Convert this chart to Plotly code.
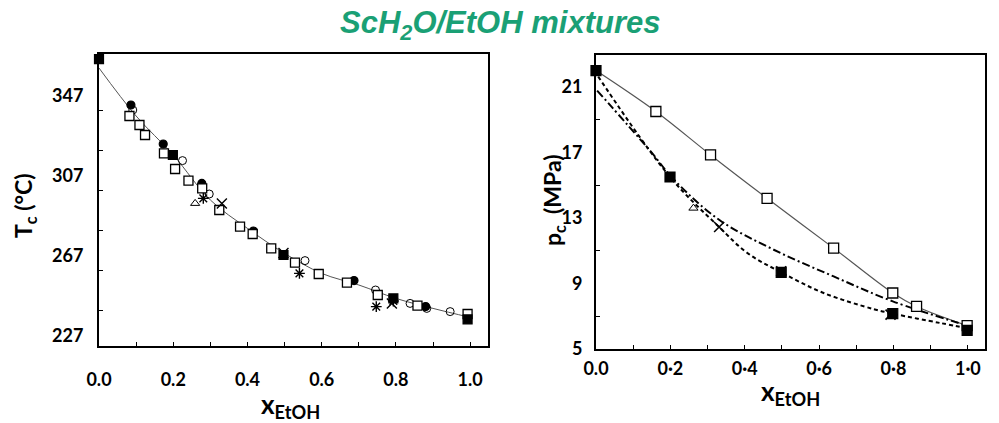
import plotly.graph_objects as go

# ---------------- Left panel: Tc vs x_EtOH ----------------
line_T_x = [0.0, 0.1, 0.2, 0.3, 0.4, 0.5, 0.6, 0.7, 0.8, 0.9, 1.0]
line_T_y = [361, 337, 317.5, 295, 280.8, 268.3, 258.3, 252.5, 245.8, 240.8, 236.3]

fsq_T_x = [0.0, 0.199, 0.497, 0.793, 0.993]
fsq_T_y = [365.4, 317.5, 267.5, 245.8, 235.3]

fci_T_x = [0.086, 0.173, 0.277, 0.416, 0.687, 0.88]
fci_T_y = [342.5, 323.0, 303.3, 279.5, 254.7, 241.7]

oci_T_x = [0.091, 0.225, 0.297, 0.555, 0.745, 0.838, 0.883, 0.946]
oci_T_y = [340.0, 314.7, 298.0, 264.7, 250.0, 243.3, 240.8, 239.2]

osq_T_x = [0.082, 0.109, 0.124, 0.175, 0.205, 0.241, 0.278, 0.324, 0.38, 0.414,
           0.464, 0.528, 0.592, 0.668, 0.751, 0.858, 0.993]
osq_T_y = [337.0, 332.5, 327.5, 318.3, 310.5, 304.7, 300.8, 290.0, 281.7, 278.0,
           270.8, 263.7, 258.0, 253.7, 247.5, 242.2, 238.0]

ast_T_x = [0.281, 0.54, 0.747, 0.793]
ast_T_y = [295.8, 258.3, 241.7, 244.5]

xm_T_x = [0.331, 0.497, 0.789]
xm_T_y = [293.3, 268.5, 243.3]

tri_T_x = [0.259]
tri_T_y = [293.3]

# ---------------- Right panel: pc vs x_EtOH ----------------
osq_p_x = [0.0, 0.161, 0.308, 0.46, 0.639, 0.798, 0.862, 0.998]
osq_p_y = [22.0, 19.5, 16.85, 14.2, 11.16, 8.42, 7.6, 6.43]

fsq_p_x = [0.0, 0.199, 0.498, 0.798, 0.998]
fsq_p_y = [22.0, 15.5, 9.68, 7.16, 6.14]

dash_p_x = [0.006, 0.199, 0.331, 0.407, 0.498, 0.612, 0.746, 0.798, 0.925, 0.998]
dash_p_y = [21.63, 15.5, 12.45, 10.86, 9.68, 8.42, 7.44, 7.16, 6.59, 6.28]

dd_p_x = [0.003, 0.147, 0.21, 0.331, 0.478, 0.639, 0.798, 0.998]
dd_p_y = [20.78, 17.06, 15.33, 12.89, 11.06, 9.43, 7.91, 6.43]

tri_p_x = [0.262]
tri_p_y = [13.6]

xm_p_x = [0.331, 0.498, 0.792]
xm_p_y = [12.45, 9.75, 7.1]

# tick labels
x_ticks = [0.0, 0.2, 0.4, 0.6, 0.8, 1.0]
x_ticktext = ["0.0", "0.2", "0.4", "0.6", "0.8", "1.0"]
x_ticktext_r = ["0.0", "0·2", "0·4", "0·6", "0·8", "1·0"]
T_ticks = [227, 267, 307, 347]
T_minor = [240, 260, 280, 300, 320, 340]
p_ticks = [5, 9, 13, 17, 21]
p_minor = [7, 11, 15, 19]

fig = go.Figure()

def sc(x, y, xa, ya, symbol, size, color="black", fill="black", lw=1.2, name=""):
    fig.add_trace(go.Scatter(
        x=x, y=y, xaxis=xa, yaxis=ya, mode="markers", name=name,
        marker=dict(symbol=symbol, size=size, color=fill,
                    line=dict(color=color, width=lw)),
        cliponaxis=False, showlegend=False))

# left panel
fig.add_trace(go.Scatter(x=line_T_x, y=line_T_y, xaxis="x", yaxis="y", mode="lines",
                         line=dict(color="#555555", width=1, shape="spline"),
                         showlegend=False, cliponaxis=False))
sc(oci_T_x, oci_T_y, "x", "y", "circle-open", 8, color="#666666", lw=1)
sc(fci_T_x, fci_T_y, "x", "y", "circle", 8)
sc(osq_T_x, osq_T_y, "x", "y", "square", 9, fill="white", lw=1.3)
sc(fsq_T_x, fsq_T_y, "x", "y", "square", 9)
sc(ast_T_x, ast_T_y, "x", "y", "asterisk-open", 9, lw=1.4)
sc(xm_T_x, xm_T_y, "x", "y", "x-thin-open", 10, lw=1.4)
sc(tri_T_x, tri_T_y, "x", "y", "triangle-up-open", 8, color="#666666", lw=1)

# right panel
fig.add_trace(go.Scatter(x=osq_p_x, y=osq_p_y, xaxis="x2", yaxis="y2", mode="lines",
                         line=dict(color="#555555", width=1.2, shape="spline"),
                         showlegend=False, cliponaxis=False))
fig.add_trace(go.Scatter(x=dash_p_x, y=dash_p_y, xaxis="x2", yaxis="y2", mode="lines",
                         line=dict(color="black", width=2, dash="4px,3px", shape="spline"),
                         showlegend=False, cliponaxis=False))
fig.add_trace(go.Scatter(x=dd_p_x, y=dd_p_y, xaxis="x2", yaxis="y2", mode="lines",
                         line=dict(color="black", width=2, dash="8px,3px,2px,3px", shape="spline"),
                         showlegend=False, cliponaxis=False))
sc(osq_p_x[1:], osq_p_y[1:], "x2", "y2", "square", 10, fill="white", lw=1.3)
sc(fsq_p_x, fsq_p_y, "x2", "y2", "square", 10)
sc(tri_p_x, tri_p_y, "x2", "y2", "triangle-up-open", 8, color="#666666", lw=1)
sc(xm_p_x, xm_p_y, "x2", "y2", "x-thin-open", 10, lw=1.6)

tickfont = dict(family="Lato, 'Open Sans', sans-serif", size=18, color="black", weight="bold")

axis_common = dict(showline=True, linecolor="black", linewidth=2, mirror=True,
                   showgrid=False, zeroline=False, tickfont=tickfont, automargin=False)

fig.update_layout(
    width=999, height=423,
    margin=dict(l=0, r=0, t=0, b=0, autoexpand=False),
    paper_bgcolor="white", plot_bgcolor="white",
    xaxis=dict(domain=[99/999, 488/999], range=[0.0, 1.048], anchor="y",
               tickvals=x_ticks, ticktext=x_ticktext, ticks="inside", ticklen=4,
               tickcolor="black", ticklabelstandoff=16,
               minor=dict(dtick=0.1, tick0=0, ticks="inside", ticklen=4, tickcolor="black"),
               **axis_common),
    yaxis=dict(domain=[1-346/423, 1-54/423], range=[222, 368], anchor="x",
               tickvals=T_ticks, ticks="", ticklabelstandoff=10,
               minor=dict(tickvals=T_minor, ticks="inside", ticklen=4, tickcolor="black"),
               **axis_common),
    xaxis2=dict(domain=[596/999, 985/999], range=[0.0, 1.046], anchor="y2",
                tickvals=x_ticks, ticktext=x_ticktext_r, ticks="inside", ticklen=4,
                tickcolor="black", ticklabelstandoff=2,
                minor=dict(dtick=0.1, tick0=0, ticks="inside", ticklen=4, tickcolor="black"),
                **axis_common),
    yaxis2=dict(domain=[1-349/423, 1-55/423], range=[5.0, 22.95], anchor="x2",
                tickvals=p_ticks, ticks="", ticklabelstandoff=8,
                minor=dict(tickvals=p_minor, ticks="inside", ticklen=4, tickcolor="black"),
                **axis_common),
)

title_font = dict(family="Lato, 'Open Sans', sans-serif", size=23, color="black", weight="bold")

fig.add_annotation(text="<i>ScH<sub>2</sub>O/EtOH mixtures</i>", xref="paper", yref="paper",
                   x=500/999, y=1-25/423, showarrow=False, xanchor="center", yanchor="middle",
                   font=dict(family="'Liberation Sans Narrow', 'Liberation Sans', sans-serif",
                             size=31, color="#1aa075", weight="bold"))
fig.add_annotation(text="T<sub>c</sub> (°C)", xref="paper", yref="paper",
                   x=24/999, y=1-206/423, showarrow=False, textangle=-90,
                   xanchor="center", yanchor="middle", font=title_font)
fig.add_annotation(text="p<sub>c</sub>  (MPa)", xref="paper", yref="paper",
                   x=553/999, y=1-200/423, showarrow=False, textangle=-90,
                   xanchor="center", yanchor="middle", font=title_font)
fig.add_annotation(text="x<sub>EtOH</sub>", xref="paper", yref="paper",
                   x=290/999, y=1-405/423, showarrow=False,
                   xanchor="center", yanchor="middle",
                   font=dict(family="Lato, 'Open Sans', sans-serif", size=26, color="black", weight="bold"))
fig.add_annotation(text="x<sub>EtOH</sub>", xref="paper", yref="paper",
                   x=790/999, y=1-392/423, showarrow=False,
                   xanchor="center", yanchor="middle",
                   font=dict(family="Lato, 'Open Sans', sans-serif", size=26, color="black", weight="bold"))

fig.write_html("out.html", config={"displayModeBar": False},
               post_script="document.body.style.margin='0';document.body.style.overflow='hidden';")
